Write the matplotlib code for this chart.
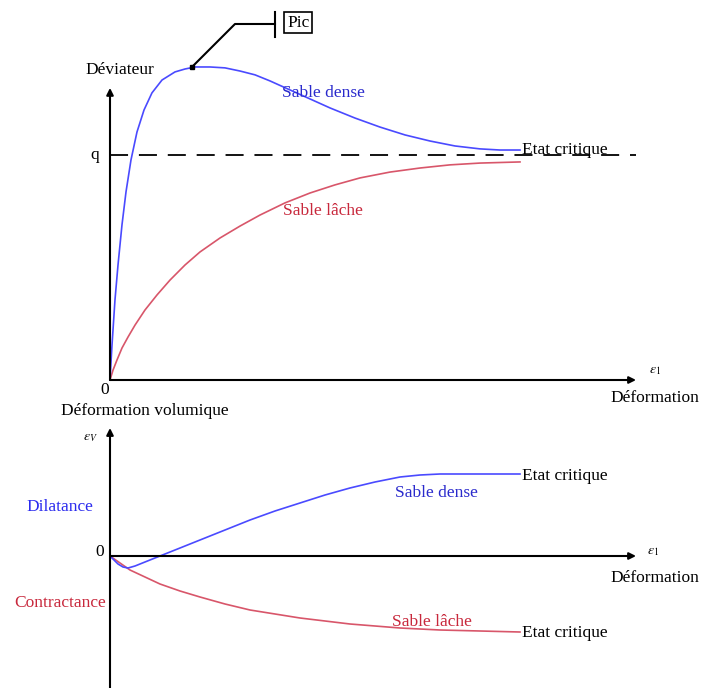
import matplotlib.pyplot as plt

plt.rcParams['font.family'] = ['Liberation Serif', 'DejaVu Serif']
plt.rcParams['mathtext.fontset'] = 'stix'

# deformation (arbitrary units) and deviator (q = 1)
dense_x = [0, 0.038, 0.094, 0.151, 0.226, 0.302, 0.396, 0.509, 0.642, 0.792, 0.981, 1.226, 1.415,
           1.604, 1.887, 2.17, 2.453, 2.736, 3.019, 3.396, 3.774, 4.151, 4.623, 5.094, 5.566,
           6.038, 6.509, 6.981, 7.358, 7.736]
dense_q = [0, 0.156, 0.356, 0.511, 0.689, 0.836, 0.978, 1.102, 1.2, 1.276, 1.333, 1.369, 1.382,
           1.391, 1.391, 1.387, 1.373, 1.356, 1.329, 1.289, 1.249, 1.209, 1.164, 1.124, 1.089,
           1.062, 1.04, 1.027, 1.022, 1.022]
loose_x = [0, 0.057, 0.132, 0.226, 0.34, 0.472, 0.66, 0.887, 1.132, 1.415, 1.698, 2.075, 2.453,
           2.83, 3.302, 3.774, 4.245, 4.717, 5.283, 5.849, 6.415, 6.981, 7.736]
loose_q = [0, 0.044, 0.089, 0.142, 0.191, 0.244, 0.311, 0.378, 0.444, 0.511, 0.569, 0.631, 0.684,
           0.733, 0.787, 0.831, 0.867, 0.898, 0.924, 0.942, 0.956, 0.964, 0.969]
q_crit = 1.0

# volumetric strain
dense_vx = [0, 0.075, 0.151, 0.245, 0.34, 0.472, 0.66, 0.943, 1.321, 1.698, 2.17, 2.642, 3.113,
            3.585, 4.057, 4.528, 5.0, 5.472, 5.849, 6.226, 7.736]
dense_ev = [0, -0.04, -0.08, -0.11, -0.12, -0.10, -0.06, 0, 0.08, 0.16, 0.26, 0.36, 0.45,
            0.53, 0.61, 0.68, 0.74, 0.79, 0.81, 0.82, 0.82]
loose_vx = [0, 0.189, 0.377, 0.66, 0.943, 1.321, 1.698, 2.17, 2.642, 3.113, 3.585, 4.057, 4.528,
            5.0, 5.472, 6.226, 6.981, 7.736]
loose_ev = [0, -0.07, -0.14, -0.21, -0.28, -0.35, -0.41, -0.48, -0.54, -0.58, -0.62, -0.65, -0.68,
            -0.70, -0.72, -0.74, -0.75, -0.76]

blue = '#4a4aff'
red = '#d8566a'
fs = 12.5

fig = plt.figure(figsize=(7.07, 6.88), dpi=100)
ax1 = fig.add_axes([110 / 707, 1 - 380 / 688, 530 / 707, 320 / 688])
ax2 = fig.add_axes([110 / 707, 0, 530 / 707, 268 / 688])

arrow = dict(arrowstyle='-|>', color='black', lw=1.5, mutation_scale=10, shrinkA=0, shrinkB=0)

# ---- top panel
ax1.set_xlim(0, 10)
ax1.set_ylim(0, 1.422)
ax1.axis('off')
ax1.annotate('', xy=(9.925, 0), xytext=(0, 0), arrowprops=arrow, annotation_clip=False)
ax1.annotate('', xy=(0, 1.298), xytext=(0, 0), arrowprops=arrow, annotation_clip=False)
ax1.plot([0, 9.925], [q_crit, q_crit], color='black', lw=1.3, dashes=(10, 6))
ax1.plot(loose_x, loose_q, color=red, lw=1.2, clip_on=False)
ax1.plot(dense_x, dense_q, color=blue, lw=1.2, clip_on=False)

ax1.plot([1.547, 2.358, 3.113], [1.391, 1.582, 1.582], color='black', lw=1.5, clip_on=False)
ax1.plot([1.547], [1.391], 's', color='black', ms=3, clip_on=False)
ax1.plot([3.113, 3.113], [1.524, 1.636], color='black', lw=1.5, clip_on=False)
ax1.text(3.55, 1.587, 'Pic', fontsize=fs, ha='center', va='center',
         bbox=dict(boxstyle='square,pad=0.15', fc='white', ec='black', lw=1.2))

ax1.text(0.189, 1.378, 'Déviateur', fontsize=fs, ha='center', va='center')
ax1.text(-0.283, q_crit, 'q', fontsize=fs, ha='center', va='center')
ax1.text(-0.094, -0.044, '0', fontsize=fs, ha='center', va='center')
ax1.text(4.019, 1.276, 'Sable dense', fontsize=fs, ha='center', va='center', color='#2a2acc')
ax1.text(7.774, 1.022, 'Etat critique', fontsize=fs, ha='left', va='center')
ax1.text(4.019, 0.751, 'Sable lâche', fontsize=fs, ha='center', va='center', color='#c8283c')
ax1.text(10.28, 0.044, r'$\varepsilon_1$', fontsize=10, ha='center', va='center')
ax1.text(10.28, -0.08, 'Déformation', fontsize=fs, ha='center', va='center')

# ---- bottom panel
ax2.set_xlim(0, 10)
ax2.set_ylim(-1.32, 1.36)
ax2.axis('off')
ax2.annotate('', xy=(9.925, 0), xytext=(0, 0), arrowprops=arrow, annotation_clip=False)
ax2.annotate('', xy=(0, 1.28), xytext=(0, -1.32), arrowprops=arrow, annotation_clip=False)
ax2.plot(loose_vx, loose_ev, color=red, lw=1.2)
ax2.plot(dense_vx, dense_ev, color=blue, lw=1.2)

ax2.text(0.66, 1.45, 'Déformation volumique', fontsize=fs, ha='center', va='center')
ax2.text(-0.377, 1.19, r'$\varepsilon_V$', fontsize=10, ha='center', va='center')
ax2.text(-0.943, 0.49, 'Dilatance', fontsize=fs, ha='center', va='center', color='#2a2aee')
ax2.text(-0.19, 0.04, '0', fontsize=fs, ha='center', va='center')
ax2.text(-0.943, -0.47, 'Contractance', fontsize=fs, ha='center', va='center', color='#c8283c')
ax2.text(6.15, 0.63, 'Sable dense', fontsize=fs, ha='center', va='center', color='#2a2acc')
ax2.text(7.774, 0.8, 'Etat critique', fontsize=fs, ha='left', va='center')
ax2.text(10.25, 0.05, r'$\varepsilon_1$', fontsize=10, ha='center', va='center')
ax2.text(10.28, -0.22, 'Déformation', fontsize=fs, ha='center', va='center')
ax2.text(6.075, -0.66, 'Sable lâche', fontsize=fs, ha='center', va='center', color='#c8283c')
ax2.text(7.774, -0.77, 'Etat critique', fontsize=fs, ha='left', va='center')

fig.savefig('out.png', dpi=100)
